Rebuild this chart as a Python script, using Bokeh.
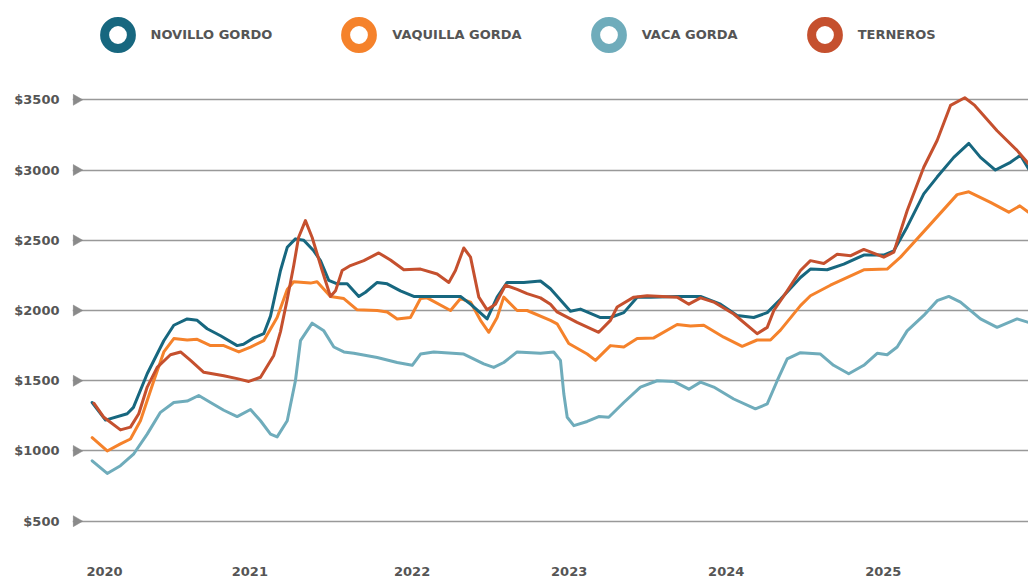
import math
import numpy as np
from bokeh.plotting import figure
from bokeh.models import Range1d, FixedTicker, Legend, LegendItem
from bokeh.core.properties import value
from bokeh.embed import file_html
from bokeh.resources import INLINE

# x = months since January 2020
novillo_x = [-0.95, 0.08, 1.75, 2.23, 3.29, 4.57, 5.34, 6.37, 7.14, 7.91, 8.94, 10.22, 10.71, 11.50, 12.27, 12.79,
             13.56, 14.08, 14.71, 15.35, 16.12, 16.64, 17.28, 17.93, 18.70, 19.59, 20.11, 21.01, 21.78, 22.80, 23.83,
             25.37, 27.43, 28.20, 29.48, 30.25, 31.02, 32.30, 33.59, 34.36, 35.90, 36.67, 38.21, 38.98, 40.01, 41.04,
             42.06, 44.12, 45.92, 47.46, 48.74, 50.02, 51.06, 52.08, 53.62, 54.39, 55.68, 56.96, 58.50, 60.04, 60.81,
             61.84, 63.12, 64.15, 65.43, 66.59, 67.49, 68.64, 69.80, 70.57, 71.19]
novillo_y = [1345, 1220, 1265, 1310, 1550, 1785, 1895, 1940, 1930, 1870, 1820, 1750, 1760, 1805, 1835, 1960,
             2285, 2450, 2510, 2500, 2425, 2355, 2215, 2190, 2190, 2100, 2130, 2200, 2190, 2140, 2100,
             2100, 2100, 2045, 1940, 2095, 2200, 2200, 2210, 2155, 1995, 2010, 1950, 1950, 1985, 2095,
             2095, 2100, 2100, 2045, 1965, 1950, 1985, 2080, 2235, 2295, 2290, 2330, 2395, 2395, 2425,
             2595, 2830, 2950, 3090, 3190, 3090, 3000, 3055, 3105, 3010]

vaquilla_x = [-0.95, 0.21, 1.23, 2.00, 2.77, 3.80, 4.57, 5.34, 6.37, 7.14, 8.17, 9.19, 10.35, 11.25, 12.27, 13.30,
              14.08, 14.58, 15.87, 16.38, 17.41, 18.44, 19.47, 21.01, 21.78, 22.55, 23.57, 24.35, 24.86, 26.66,
              27.43, 28.20, 28.97, 29.61, 30.25, 30.76, 31.79, 32.56, 34.36, 34.87, 35.77, 37.19, 37.83, 38.98,
              40.01, 41.04, 42.32, 44.12, 45.15, 46.17, 47.71, 49.13, 50.28, 51.31, 52.08, 53.62, 54.39, 55.93,
              58.50, 60.30, 61.33, 63.64, 65.69, 66.59, 68.26, 69.67, 70.52, 71.19]
vaquilla_y = [1095, 1000, 1050, 1085, 1215, 1500, 1705, 1800, 1790, 1795, 1750, 1750, 1705, 1740, 1785, 1950,
              2150, 2205, 2195, 2205, 2100, 2085, 2005, 2000, 1990, 1940, 1950, 2085, 2090, 2000,
              2085, 2060, 1930, 1845, 1950, 2095, 2000, 2000, 1930, 1905, 1765, 1690, 1645, 1750,
              1740, 1800, 1805, 1900, 1890, 1895, 1810, 1745, 1790, 1790, 1860, 2035, 2105, 2180,
              2290, 2295, 2380, 2615, 2825, 2845, 2770, 2700, 2745, 2700]

vaca_x = [-0.95, 0.21, 1.23, 2.26, 3.29, 4.31, 5.34, 6.37, 7.26, 8.17, 9.19, 10.22, 11.25, 12.02, 12.79, 13.30,
          14.08, 14.71, 15.10, 16.00, 16.90, 17.67, 18.44, 19.21, 21.01, 22.55, 23.71, 24.35, 25.37, 27.68, 29.22,
          29.99, 30.76, 31.79, 33.59, 34.61, 35.13, 35.39, 35.65, 36.16, 37.19, 38.08, 38.85, 40.01, 41.29, 42.58,
          43.86, 45.02, 45.92, 46.94, 48.48, 50.15, 51.06, 51.83, 52.60, 53.62, 55.16, 56.17, 57.34, 58.50, 59.53,
          60.30, 61.07, 61.84, 63.12, 64.15, 65.05, 65.95, 67.49, 68.77, 70.31, 71.19]
vaca_y = [930, 840, 895, 980, 1120, 1275, 1345, 1355, 1395, 1345, 1290, 1245, 1295, 1215, 1120, 1100,
          1215, 1500, 1785, 1910, 1855, 1740, 1705, 1695, 1665, 1630, 1610, 1690, 1705, 1690, 1620,
          1595, 1630, 1705, 1695, 1705, 1645, 1405, 1240, 1180, 1210, 1245, 1240, 1345, 1455, 1500,
          1495, 1440, 1490, 1455, 1370, 1300, 1335, 1500, 1655, 1700, 1690, 1610, 1550, 1610, 1695,
          1685, 1740, 1855, 1965, 2070, 2100, 2060, 1940, 1880, 1940, 1915]

terneros_x = [-0.82, -0.05, 1.23, 2.00, 2.64, 3.29, 4.06, 5.08, 5.86, 6.63, 7.65, 9.19, 10.22, 11.12, 12.02, 13.04,
              13.56, 14.08, 14.58, 14.95, 15.48, 16.00, 16.77, 17.41, 17.80, 18.31, 18.95, 19.98, 21.13, 22.03,
              23.06, 24.35, 25.63, 26.53, 27.04, 27.68, 28.20, 28.84, 29.48, 30.12, 30.89, 31.79, 32.56, 33.59,
              34.36, 34.87, 36.41, 38.08, 38.98, 39.50, 40.78, 41.81, 44.12, 45.02, 45.92, 46.94, 48.48, 50.28,
              51.06, 51.57, 52.60, 53.62, 54.39, 55.42, 56.45, 57.50, 58.50, 60.04, 60.81, 61.84, 63.12, 64.15,
              65.18, 66.28, 67.05, 68.77, 70.31, 71.19]
terneros_y = [1340, 1240, 1150, 1170, 1265, 1455, 1595, 1685, 1705, 1645, 1560, 1535, 1515, 1495, 1525, 1680,
              1850, 2080, 2320, 2520, 2640, 2520, 2285, 2100, 2140, 2285, 2320, 2355, 2410, 2360,
              2290, 2295, 2260, 2200, 2285, 2445, 2380, 2095, 2005, 2045, 2180, 2150, 2120, 2090,
              2045, 1990, 1915, 1845, 1930, 2025, 2095, 2105, 2095, 2045, 2090, 2060, 1975, 1835,
              1880, 2000, 2140, 2285, 2355, 2335, 2400, 2390, 2435, 2380, 2415, 2710, 3020, 3210,
              3460, 3515, 3460, 3280, 3140, 3045]

series_names = ["NOVILLO GORDO", "VAQUILLA GORDA", "VACA GORDA", "TERNEROS"]
series_colors = ["#17677f", "#f5822b", "#6facbb", "#c5502e"]

y_ticks = [500, 1000, 1500, 2000, 2500, 3000, 3500]
y_labels = ["$500", "$1000", "$1500", "$2000", "$2500", "$3000", "$3500"]
x_ticks = [0, 11.2, 23.7, 35.8, 47.9, 60]
x_labels = ["2020", "2021", "2022", "2023", "2024", "2025"]

FONT = "DejaVu Sans"
TEXT_COLOR = "#555555"

x_start, x_end = -2.465, 71.19
p = figure(width=1028, height=579, output_backend="svg", toolbar_location=None,
           x_range=Range1d(x_start, x_end), y_range=Range1d(327, 4207),
           min_border_left=72, min_border_right=0, min_border_top=0, min_border_bottom=34)
p.outline_line_color = None
p.background_fill_color = "white"

# axes
p.yaxis.ticker = FixedTicker(ticks=y_ticks)
p.yaxis.major_label_overrides = dict(zip(y_ticks, y_labels))
p.xaxis.ticker = FixedTicker(ticks=x_ticks)
p.xaxis.major_label_overrides = dict(zip(x_ticks, x_labels))
for ax in (p.xaxis, p.yaxis):
    ax.axis_line_color = None
    ax.major_tick_line_color = None
    ax.minor_tick_line_color = None
    ax.major_label_text_font = FONT
    ax.major_label_text_font_style = "bold"
    ax.major_label_text_font_size = "13px"
    ax.major_label_text_color = TEXT_COLOR
p.yaxis.major_label_standoff = 7
p.xaxis.major_label_standoff = 15

p.xgrid.visible = False
p.ygrid.ticker = FixedTicker(ticks=y_ticks)
p.ygrid.grid_line_color = "#999999"
p.ygrid.grid_line_width = 1.5

# triangle markers at the start of each grid line
p.scatter(x=[x_start + 0.3] * len(y_ticks), y=y_ticks, marker="triangle", size=11,
          angle=-math.pi / 2, fill_color="#8a8a8a", line_color="#8a8a8a", line_width=0.5)

# lines (draw order)
data = {
    "NOVILLO GORDO": (novillo_x, novillo_y),
    "VAQUILLA GORDA": (vaquilla_x, vaquilla_y),
    "VACA GORDA": (vaca_x, vaca_y),
    "TERNEROS": (terneros_x, terneros_y),
}
color_of = dict(zip(series_names, series_colors))
for name in ["VACA GORDA", "VAQUILLA GORDA", "NOVILLO GORDO", "TERNEROS"]:
    xs, ys = data[name]
    p.line(x=xs, y=ys, line_color=color_of[name], line_width=3,
           line_join="round", line_cap="round")

# legend with ring markers (renderers hold one undrawn NaN point so the legend glyph is painted)
items = []
for name, color in zip(series_names, series_colors):
    r = p.scatter(x=np.array([0.0]), y=np.array([np.nan]), marker="circle", size=27,
                  fill_color="white", line_color=color, line_width=9)
    items.append(LegendItem(label=value(name), renderers=[r], index=0))

legend = Legend(items=items, orientation="horizontal", location=(11.5, 477.5),
                glyph_width=67, glyph_height=67, label_standoff=0, spacing=53,
                padding=0, margin=0, border_line_alpha=0, background_fill_alpha=0,
                label_text_font=FONT, label_text_font_style="bold",
                label_text_font_size="13px", label_text_color=TEXT_COLOR)
p.add_layout(legend)

open("out.html", "w").write(file_html(p, INLINE))
